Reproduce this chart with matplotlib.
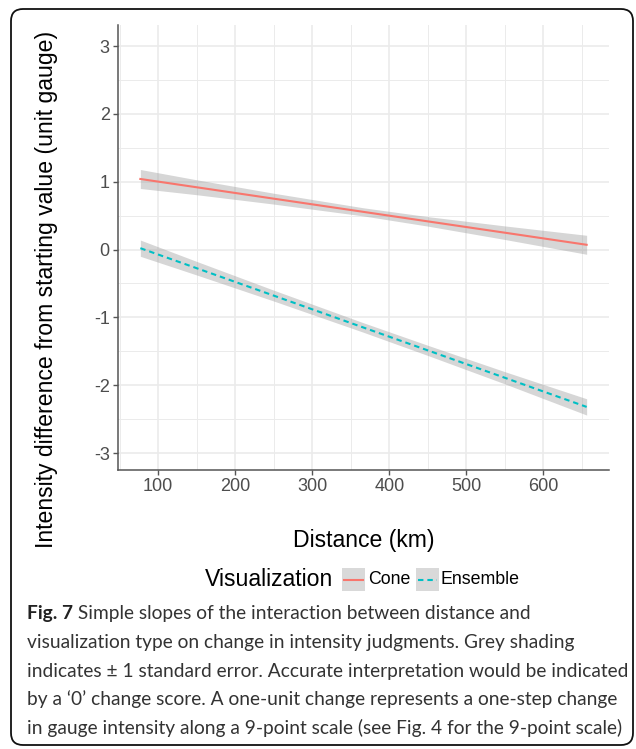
import matplotlib
matplotlib.use("Agg")
import matplotlib.pyplot as plt
from matplotlib.patches import FancyBboxPatch, Rectangle
from matplotlib.lines import Line2D
from matplotlib.transforms import IdentityTransform

plt.rcParams['axes.unicode_minus'] = False
plt.rcParams['font.family'] = ['Liberation Sans', 'DejaVu Sans']

# ---------------- data ----------------
distance = [77, 150, 250, 366, 450, 550, 656]
cone_fit = [1.04, 0.918, 0.750, 0.556, 0.415, 0.248, 0.07]
cone_se = [0.14, 0.11, 0.08, 0.06, 0.07, 0.10, 0.14]
ensemble_fit = [0.02, -0.275, -0.679, -1.148, -1.487, -1.891, -2.32]
ensemble_se = [0.12, 0.10, 0.08, 0.07, 0.075, 0.09, 0.12]
series_names = ["Cone", "Ensemble"]
series_colors = ["#F8766D", "#00BFC4"]
x_ticks = [100, 200, 300, 400, 500, 600]
x_minor = [50, 150, 250, 350, 450, 550, 650]
y_ticks = [-3, -2, -1, 0, 1, 2, 3]
y_minor = [-2.5, -1.5, -0.5, 0.5, 1.5, 2.5]
x_label = "Distance (km)"
y_label = "Intensity difference from starting value (unit gauge)"
legend_title = "Visualization"
caption_bold = "Fig. 7"
caption_lines = [
    " Simple slopes of the interaction between distance and",
    "visualization type on change in intensity judgments. Grey shading",
    "indicates \u00b1 1 standard error. Accurate interpretation would be indicated",
    "by a \u20180\u2019 change score. A one-unit change represents a one-step change",
    "in gauge intensity along a 9-point scale (see Fig. 4 for the 9-point scale)",
]

W, H = 636, 749
fig = plt.figure(figsize=(W / 100, H / 100), dpi=100)
fig.patch.set_facecolor('white')
ID = IdentityTransform()

# ---------------- axes ----------------
ax_l, ax_r, ax_t, ax_b = 118, 609, 25, 470
ax = fig.add_axes([ax_l / W, 1 - ax_b / H, (ax_r - ax_l) / W, (ax_b - ax_t) / H])
ax.set_xlim(48, 685)
ax.set_ylim(-3.25, 3.31)
ax.set_xticks(x_ticks)
ax.set_yticks(y_ticks)
ax.set_xticks(x_minor, minor=True)
ax.set_yticks(y_minor, minor=True)
ax.set_xticklabels([str(v) for v in x_ticks])
ax.set_yticklabels([str(v) for v in y_ticks])
ax.grid(which='major', color='#EBEBEB', lw=1.2, zorder=0)
ax.grid(which='minor', color='#EBEBEB', lw=0.7, zorder=0)
ax.set_axisbelow(True)
for s in ['top', 'right']:
    ax.spines[s].set_visible(False)
for s in ['left', 'bottom']:
    ax.spines[s].set_color('#555555')
    ax.spines[s].set_linewidth(1.1)
ax.tick_params(which='major', length=3.5, width=1.0, color='#555555',
               labelcolor='#4D4D4D', labelsize=13, pad=2.5)
ax.tick_params(which='minor', length=0)

for fit, se, col, ls in [(cone_fit, cone_se, series_colors[0], '-'),
                         (ensemble_fit, ensemble_se, series_colors[1], '--')]:
    lo = [f - s for f, s in zip(fit, se)]
    hi = [f + s for f, s in zip(fit, se)]
    ax.fill_between(distance, lo, hi, color='#999999', alpha=0.4, lw=0, zorder=2)
    line, = ax.plot(distance, fit, color=col, lw=1.5, ls=ls, zorder=3)
    if ls == '--':
        line.set_dashes((2.6, 1.9))

# ---------------- axis titles ----------------
fig.text((ax_l + ax_r) / 2 / W, 1 - 541 / H, x_label, ha='center', va='center',
         fontsize=16.6, color='black')
fig.text(47 / W, 1 - 289 / H, y_label, ha='center', va='center', rotation=90,
         fontsize=16.6, color='black')

# ---------------- legend ----------------
fig.text(205 / W, 1 - 580 / H, legend_title, ha='left', va='center',
         fontsize=16.6, color='black')
key_x = [342, 416]
label_x = [368, 441]
for i, name in enumerate(series_names):
    kx = key_x[i]
    fig.add_artist(Rectangle((kx, H - 591), 23, 23, transform=ID,
                             fc='#D9D9D9', ec='none'))
    ln = Line2D([kx + 2, kx + 21], [H - 579.5, H - 579.5], transform=ID,
                color=series_colors[i], lw=1.5, ls='-' if i == 0 else '--')
    if i == 1:
        ln.set_dashes((2.6, 1.9))
    fig.add_artist(ln)
    fig.text(label_x[i] / W, 1 - 580 / H, name, ha='left', va='center',
             fontsize=12.8, color='black')

# ---------------- caption ----------------
cap_font = ['Lato', 'DejaVu Sans']
cap_left = 27
cap_right = 627
line_y = [614, 642.5, 671, 699.5, 728]
renderer = fig.canvas.get_renderer()
probe = fig.text(0, 0, caption_lines[4], fontsize=16, family=cap_font)
wpx = probe.get_window_extent(renderer).width
probe.remove()
cap_size = 16 * (cap_right - cap_left) / wpx

tb = fig.text(cap_left / W, 1 - line_y[0] / H, caption_bold, ha='left', va='center',
              fontsize=cap_size, family=cap_font, weight='bold', color='#222222')
bw = tb.get_window_extent(renderer).width
fig.text((cap_left + bw) / W, 1 - line_y[0] / H, caption_lines[0], ha='left',
         va='center', fontsize=cap_size, family=cap_font, color='#333333')
for i in range(1, 5):
    fig.text(cap_left / W, 1 - line_y[i] / H, caption_lines[i], ha='left',
             va='center', fontsize=cap_size, family=cap_font, color='#333333')

# ---------------- outer frame ----------------
fig.add_artist(FancyBboxPatch((11, H - 745), 622, 736,
                              boxstyle="round,pad=0,rounding_size=12",
                              transform=ID, fill=False, ec='#111111', lw=1.3))

fig.savefig("out.png", dpi=100)
